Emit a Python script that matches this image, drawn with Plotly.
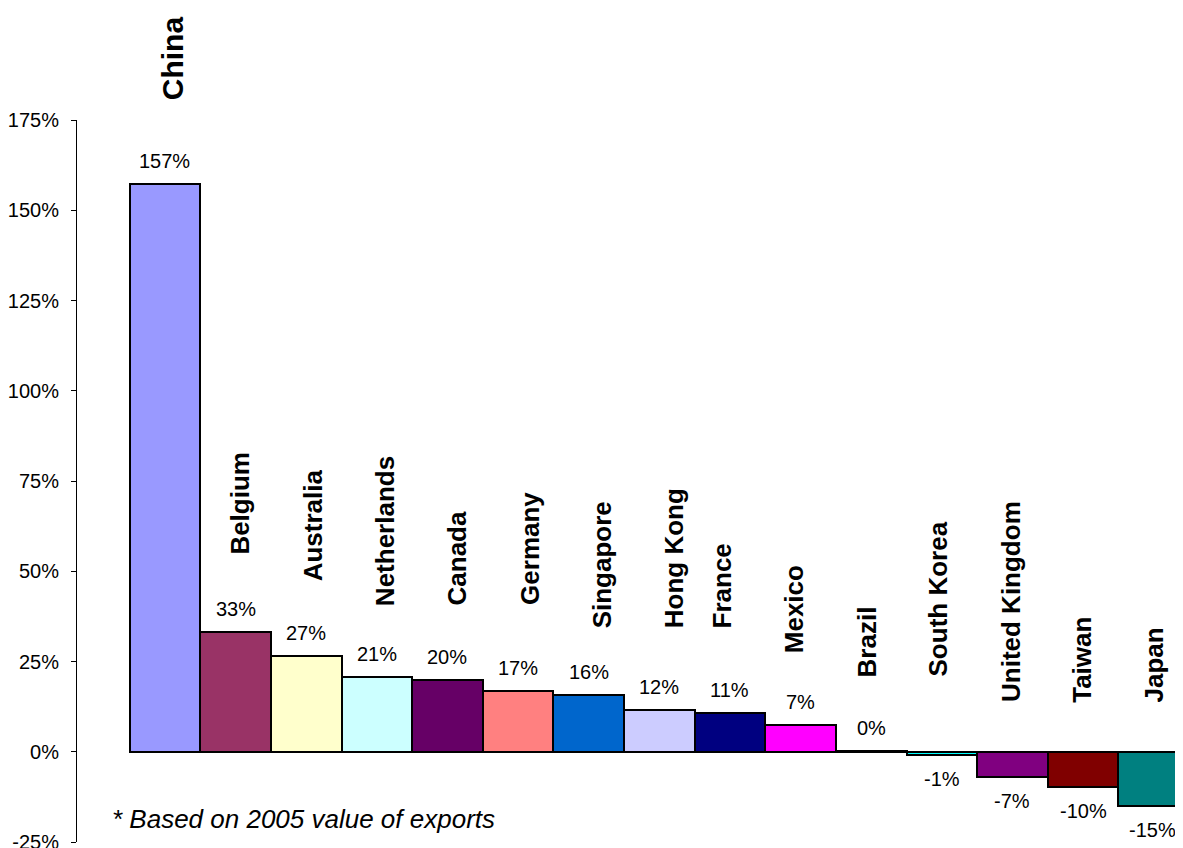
import plotly.graph_objects as go

# ---- data ----
countries = ["China", "Belgium", "Australia", "Netherlands", "Canada", "Germany",
             "Singapore", "Hong Kong", "France", "Mexico", "Brazil", "South Korea",
             "United Kingdom", "Taiwan", "Japan"]
growth_pct = [157.4, 33.2, 26.6, 20.6, 19.9, 16.8, 15.8, 11.6, 10.6, 7.4, 0.2, -0.9,
              -7.1, -9.7, -15.0]
y_ticks = [-25, 0, 25, 50, 75, 100, 125, 150, 175]
footnote = "* Based on 2005 value of exports"

# ---- styling ----
bar_colors = ["#9999FF", "#993366", "#FFFFCC", "#CCFFFF", "#660066", "#FF8080",
              "#0066CC", "#CCCCFF", "#000080", "#FF00FF", "#FFFF00", "#00FFFF",
              "#800080", "#800000", "#008080"]
# label placement (pixel offsets from bar centre / bar top)
name_dx = [7.2, 4.4, 6.4, 7.5, 10, 11.3, 12.8, 15.5, -8.4, -6.7, -4.6, -3.6, -1.7, -0.6, 0.5]
name_dy = [83.5, 76.8, 74, 71.6, 74.9, 86.1, 66.4, 81.5, 85.1, 71.7, 73.7, 75, 50, 49.4, 49]
name_size = [30] + [26] * 14
value_dx = [0] * 14 + [-1.5]

FONT = "Liberation Sans, Arial, sans-serif"

fig = go.Figure()
fig.add_trace(go.Bar(
    x=countries, y=growth_pct,
    marker=dict(color=bar_colors, line=dict(color="black", width=2)),
    width=1, hoverinfo="skip",
))

annotations = []
for i, (c, v) in enumerate(zip(countries, growth_pct)):
    # value label
    annotations.append(dict(
        x=c, y=v, xref="x", yref="y", text=f"{round(v):.0f}%", showarrow=False,
        xanchor="center", yanchor="middle", yshift=23 if v >= 0 else -24,
        xshift=value_dx[i],
        font=dict(family=FONT, size=20, color="black"),
    ))
    # country name
    annotations.append(dict(
        x=c, y=max(v, 0), xref="x", yref="y", text=f"<b>{c}</b>", showarrow=False,
        textangle=-90, xanchor="center", yanchor="bottom",
        xshift=name_dx[i], yshift=name_dy[i] - 2,
        font=dict(family=FONT, size=name_size[i], color="black"),
    ))

annotations.append(dict(
    x=0.0298, y=0.0319, xref="paper", yref="paper", text=f"<i>{footnote}</i>",
    showarrow=False, xanchor="left", yanchor="middle",
    font=dict(family=FONT, size=26, color="black"),
))

# the page body has an 8px margin; size the figure so the plot lands in place
fig.update_layout(
    width=1175, height=840, autosize=False,
    margin=dict(l=69, r=0, t=112, b=6),
    paper_bgcolor="white", plot_bgcolor="white",
    showlegend=False, bargap=0,
    annotations=annotations,
    font=dict(family=FONT, color="black"),
)
fig.update_xaxes(range=[-1.246, 14.415], showticklabels=False, ticks="",
                 showgrid=False, zeroline=False, showline=False, automargin=False)
fig.update_yaxes(range=[-25, 175], tickvals=y_ticks,
                 ticktext=[f"{t}%" for t in y_ticks],
                 tickfont=dict(family=FONT, size=20, color="black"),
                 ticks="outside", ticklen=5, tickcolor="black", tickwidth=1,
                 ticklabelstandoff=8, ticklabeloverflow="allow", automargin=False,
                 showline=True, linecolor="black", linewidth=1,
                 showgrid=False, zeroline=False)

fig.write_html("out.html")
